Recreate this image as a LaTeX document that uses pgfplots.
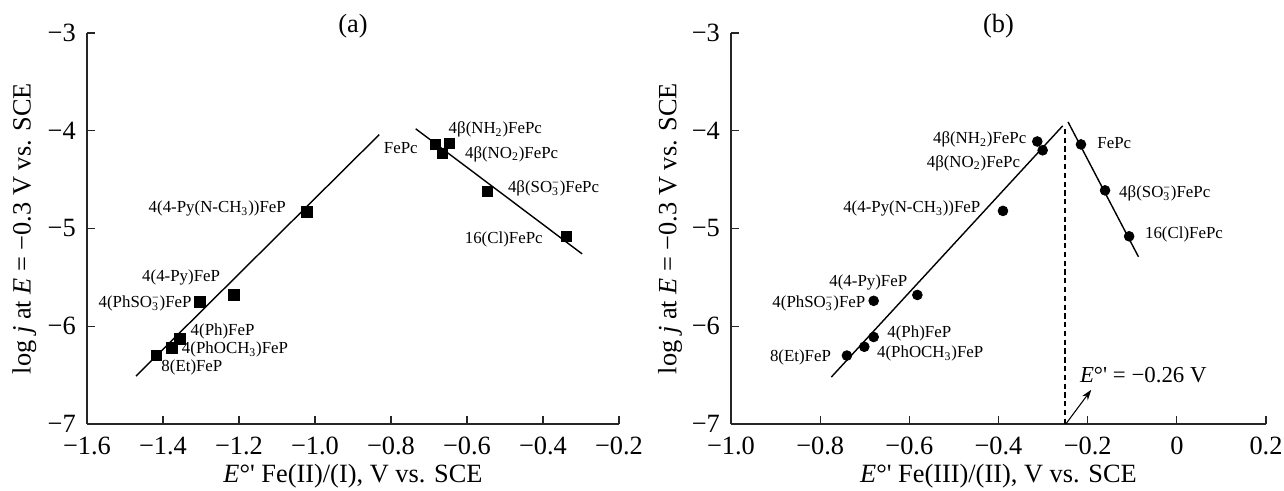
\documentclass[border=0pt]{standalone}
\usepackage{fontspec}
\setmainfont{Liberation Serif}
\usepackage{pgfplots}
\pgfplotsset{compat=1.18}
\usetikzlibrary{arrows.meta}

% small labels next to the points
\newcommand{\lab}{\fontsize{9.6}{11}\selectfont}
\newcommand{\bigf}{\fontsize{15}{18}\selectfont}
\newcommand{\sothree}{SO\rlap{\textsubscript{3}}\textsuperscript{−}}
\newcommand{\Eo}{\textit{E}°\textquotesingle}

\pgfplotsset{
  panel/.style={
    scale only axis,
    height=7.82cm,
    axis lines=left,
    axis line style={-, line width=0.6pt, black!85},
    tick style={line width=0.6pt, black!85},
    major tick length=4.5pt,
    tick align=inside,
    ymin=-7, ymax=-3,
    ytick={-7,-6,-5,-4,-3},
    yticklabels={−7,−6,−5,−4,−3},
    ticklabel style={font=\bigf},
    xticklabel style={anchor=base, yshift=-0.62cm},
    yticklabel style={anchor=east, xshift=-0.1cm},
    label style={font=\bigf},
    ylabel={log \textit{j} at \textit{E} = −0.3 V vs. SCE},
    xlabel style={at={(axis description cs:0.5,0)}, anchor=base, yshift=-1.18cm},
    clip=false,
  },
  fit/.style={black, line width=0.8pt},
}

\begin{document}
\begin{tikzpicture}
% ---------- (a) ----------
\begin{axis}[panel,
  width=10.64cm,
  xmin=-1.6, xmax=-0.2,
  xtick={-1.6,-1.4,-1.2,-1.0,-0.8,-0.6,-0.4,-0.2},
  xticklabels={−1.6,−1.4,−1.2,−1.0,−0.8,−0.6,−0.4,−0.2},
  xlabel={\Eo\ Fe(II)/(I), V vs. SCE},
  ylabel style={at={(axis description cs:-0.118,0.5)}, anchor=center},
]
\addplot[fit] coordinates {(-1.471,-6.51) (-0.831,-4.04)};
\addplot[fit] coordinates {(-0.735,-3.98) (-0.297,-5.26)};
\addplot[only marks, mark=square*, mark size=3pt, black] coordinates {
  (-1.418,-6.30) (-1.376,-6.22) (-1.355,-6.13) (-1.303,-5.75)
  (-1.214,-5.68) (-1.022,-4.83)
  (-0.683,-4.14) (-0.647,-4.13) (-0.665,-4.23) (-0.547,-4.62) (-0.338,-5.08)
};
\node[anchor=base, font=\bigf, inner sep=0] at (rel axis cs:0.5,1) {(a)};
\node[anchor=west, inner sep=0, font=\lab] at (axis cs:-0.649,-3.99) {4β(NH\textsubscript{2})FePc};
\node[anchor=east, inner sep=0, font=\lab] at (axis cs:-0.729,-4.18) {FePc};
\node[anchor=west, inner sep=0, font=\lab] at (axis cs:-0.606,-4.24) {4β(NO\textsubscript{2})FePc};
\node[anchor=west, inner sep=0, font=\lab] at (axis cs:-0.493,-4.59) {4β(\sothree)FePc};
\node[anchor=east, inner sep=0, font=\lab] at (axis cs:-0.400,-5.11) {16(Cl)FePc};
\node[anchor=east, inner sep=0, font=\lab] at (axis cs:-1.076,-4.80) {4(4-Py(N-CH\textsubscript{3}))FeP};
\node[anchor=east, inner sep=0, font=\lab] at (axis cs:-1.249,-5.50) {4(4-Py)FeP};
\node[anchor=east, inner sep=0, font=\lab] at (axis cs:-1.324,-5.77) {4(Ph\sothree)FeP};
\node[anchor=west, inner sep=0, font=\lab] at (axis cs:-1.328,-6.05) {4(Ph)FeP};
\node[anchor=west, inner sep=0, font=\lab] at (axis cs:-1.351,-6.24) {4(PhOCH\textsubscript{3})FeP};
\node[anchor=west, inner sep=0, font=\lab] at (axis cs:-1.405,-6.42) {8(Et)FeP};
\end{axis}

% ---------- (b) ----------
\begin{axis}[panel,
  at={(12.88cm,0)},
  width=10.7cm,
  xmin=-1.0, xmax=0.2,
  xtick={-1.0,-0.8,-0.6,-0.4,-0.2,0,0.2},
  xticklabels={−1.0,−0.8,−0.6,−0.4,−0.2,0,0.2},
  xlabel={\Eo\ Fe(III)/(II), V vs. SCE},
  ylabel style={at={(axis description cs:-0.114,0.5)}, anchor=center},
]
\addplot[fit] coordinates {(-0.775,-6.52) (-0.256,-3.95)};
\addplot[fit] coordinates {(-0.244,-3.91) (-0.086,-5.29)};
\addplot[black, line width=0.8pt, dash pattern=on 3pt off 2pt] coordinates {(-0.251,-3.98) (-0.251,-7)};
\addplot[black, line width=0.6pt, -{Stealth[length=6pt,width=4pt]}] coordinates {(-0.249,-7) (-0.192,-6.65)};
\addplot[only marks, mark=*, mark size=2.8pt, black] coordinates {
  (-0.740,-6.30) (-0.701,-6.21) (-0.680,-6.11) (-0.680,-5.74)
  (-0.582,-5.68) (-0.390,-4.82)
  (-0.313,-4.11) (-0.301,-4.20) (-0.215,-4.14) (-0.161,-4.61) (-0.107,-5.08)
};
\node[anchor=base, font=\bigf, inner sep=0] at (rel axis cs:0.5,1) {(b)};
\node[anchor=east, inner sep=0, font=\lab] at (axis cs:-0.337,-4.09) {4β(NH\textsubscript{2})FePc};
\node[anchor=east, inner sep=0, font=\lab] at (axis cs:-0.351,-4.33) {4β(NO\textsubscript{2})FePc};
\node[anchor=west, inner sep=0, font=\lab] at (axis cs:-0.179,-4.13) {FePc};
\node[anchor=west, inner sep=0, font=\lab] at (axis cs:-0.130,-4.64) {4β(\sothree)FePc};
\node[anchor=west, inner sep=0, font=\lab] at (axis cs:-0.072,-5.06) {16(Cl)FePc};
\node[anchor=east, inner sep=0, font=\lab] at (axis cs:-0.440,-4.80) {4(4-Py(N-CH\textsubscript{3}))FeP};
\node[anchor=east, inner sep=0, font=\lab] at (axis cs:-0.604,-5.55) {4(4-Py)FeP};
\node[anchor=east, inner sep=0, font=\lab] at (axis cs:-0.698,-5.77) {4(Ph\sothree)FeP};
\node[anchor=west, inner sep=0, font=\lab] at (axis cs:-0.650,-6.07) {4(Ph)FeP};
\node[anchor=west, inner sep=0, font=\lab] at (axis cs:-0.673,-6.28) {4(PhOCH\textsubscript{3})FeP};
\node[anchor=east, inner sep=0, font=\lab] at (axis cs:-0.775,-6.32) {8(Et)FeP};
\node[anchor=west, inner sep=0, font=\fontsize{13}{15}\selectfont] at (axis cs:-0.218,-6.50) {\Eo\ = −0.26 V};
\end{axis}

\pgfresetboundingbox
\path[use as bounding box] (-1.74,-1.34) rectangle (23.94,8.48);
\end{tikzpicture}
\end{document}
